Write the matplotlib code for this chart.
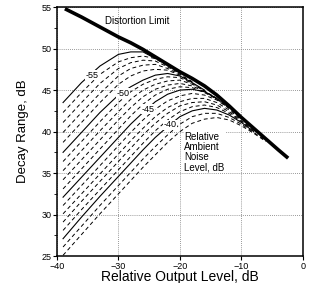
import numpy as np
import matplotlib
matplotlib.use("Agg")
import matplotlib.pyplot as plt

plt.rcParams['font.family'] = ['Liberation Sans', 'DejaVu Sans']

output_level = [-39, -36, -33, -30, -28, -26, -24, -22, -20, -18, -16, -14, -12, -10, -8, -6]
noise_levels = [-55, -54, -53, -52, -51, -50, -49, -48, -47, -46, -45, -44, -43, -42, -41, -40, -39, -38]
nan = np.nan
decay_range = [
    [43.5, 45.9, 47.9, 49.3, 49.6, 49.6, 48.8, nan, nan, nan, nan, nan, nan, nan, nan, nan],
    [42.3, 44.7, 46.9, 48.4, 48.9, 49.1, 48.8, 47.9, nan, nan, nan, nan, nan, nan, nan, nan],
    [41.1, 43.5, 45.8, 47.6, 48.3, 48.6, 48.5, 47.8, 47.0, nan, nan, nan, nan, nan, nan, nan],
    [39.9, 42.3, 44.6, 46.7, 47.6, 48.0, 48.1, 47.6, 46.9, 46.0, nan, nan, nan, nan, nan, nan],
    [38.7, 41.1, 43.5, 45.7, 46.7, 47.3, 47.5, 47.4, 46.8, 46.0, nan, nan, nan, nan, nan, nan],
    [37.5, 39.9, 42.3, 44.4, 45.4, 46.2, 46.8, 47.0, 46.7, 45.9, 45.0, nan, nan, nan, nan, nan],
    [36.4, 38.8, 41.2, 43.5, 44.8, 45.7, 46.3, 46.6, 46.5, 45.8, 44.9, 43.9, nan, nan, nan, nan],
    [35.3, 37.7, 40.1, 42.4, 43.9, 45.0, 45.7, 46.1, 46.2, 45.7, 44.9, 44.0, nan, nan, nan, nan],
    [34.2, 36.6, 39.0, 41.4, 42.9, 44.2, 45.1, 45.6, 45.8, 45.5, 44.8, 44.0, nan, nan, nan, nan],
    [33.1, 35.5, 37.9, 40.3, 41.9, 43.3, 44.4, 45.1, 45.4, 45.3, 44.7, 43.9, 42.8, nan, nan, nan],
    [32.1, 34.5, 36.9, 39.3, 40.9, 42.3, 43.6, 44.5, 45.0, 45.1, 44.8, 44.0, 42.9, nan, nan, nan],
    [31.1, 33.5, 35.9, 38.3, 39.9, 41.4, 42.7, 43.7, 44.3, 44.6, 44.4, 43.8, 42.8, 41.5, nan, nan],
    [30.1, 32.5, 34.9, 37.3, 38.9, 40.4, 41.8, 42.9, 43.6, 44.0, 44.0, 43.5, 42.6, 41.4, nan, nan],
    [29.1, 31.6, 34.0, 36.4, 38.0, 39.6, 41.0, 42.2, 43.1, 43.5, 43.6, 43.2, 42.4, 41.3, 40.2, nan],
    [28.1, 30.6, 33.0, 35.4, 37.0, 38.6, 40.1, 41.4, 42.4, 43.0, 43.2, 42.9, 42.2, 41.2, 40.1, nan],
    [27.1, 29.7, 32.2, 34.6, 36.2, 37.8, 39.3, 40.6, 41.8, 42.5, 42.8, 42.6, 42.0, 41.1, 40.0, nan],
    [26.1, 28.6, 31.1, 33.5, 35.1, 36.7, 38.2, 39.6, 40.9, 41.8, 42.2, 42.2, 41.7, 40.9, 39.9, 38.9],
    [25.1, 27.6, 30.1, 32.5, 34.1, 35.7, 37.2, 38.7, 40.0, 41.0, 41.5, 41.7, 41.4, 40.7, 39.8, 38.8],
]

limit_level = [-38.7, -36, -33, -30, -28, -26, -24, -22, -20, -18, -16, -14, -12, -10, -8, -6, -4, -2.4]
limit_range = [54.8, 53.8, 52.6, 51.4, 50.7, 49.9, 49.0, 48.1, 47.2, 46.4, 45.5, 44.4, 43.1, 41.7, 40.4, 39.1, 37.8, 36.8]

# label positions on the solid curves
curve_labels = {-55: (-34.3, 46.8), -50: (-29.2, 44.6), -45: (-25.2, 42.7), -40: (-21.6, 40.8)}

fig = plt.figure(figsize=(3.11, 2.83), dpi=100)
ax = fig.add_axes([0.183, 0.095, 0.791, 0.88])

for n, row in zip(noise_levels, decay_range):
    if n % 5 == 0:
        ax.plot(output_level, row, color='k', lw=0.8)
    else:
        ax.plot(output_level, row, color='k', lw=0.7, dashes=(4, 3))

ax.plot(limit_level, limit_range, color='k', lw=2.6, solid_capstyle='butt')

for n, (lx, ly) in curve_labels.items():
    ax.text(lx, ly, str(n), fontsize=6.5, ha='center', va='center',
            bbox=dict(facecolor='white', edgecolor='none', pad=0.3))

ax.text(-32.2, 53.3, 'Distortion Limit', fontsize=7, ha='left', va='center')
ax.text(-19.3, 39.9, 'Relative\nAmbient\nNoise\nLevel, dB', fontsize=7,
        ha='left', va='top', linespacing=1.0,
        bbox=dict(facecolor='white', edgecolor='none', pad=0.5))

ax.set_xlim(-40, 0)
ax.set_ylim(25, 55)
ax.set_xticks([-40, -30, -20, -10, 0])
ax.set_yticks([25, 30, 35, 40, 45, 50, 55])
ax.set_yticks(np.arange(27.5, 55, 5), minor=True)
ax.tick_params(axis='both', which='major', labelsize=6.5, length=3, width=0.8, pad=1)
ax.tick_params(axis='y', which='minor', length=2, width=0.6)
ax.grid(True, which='major', color='#777777', lw=0.6, linestyle=(0, (1, 1.5)))
ax.set_axisbelow(True)
for s in ax.spines.values():
    s.set_linewidth(1.1)

ax.set_xlabel('Relative Output Level, dB', fontsize=10, labelpad=-0.5)
ax.set_ylabel('Decay Range, dB', fontsize=9.5, labelpad=9)

fig.savefig('out.png', dpi=100)
